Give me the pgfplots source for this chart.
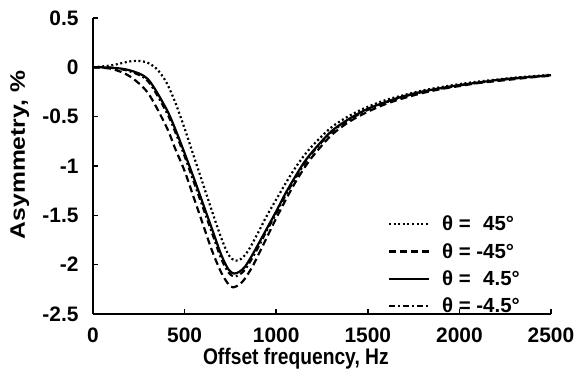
\documentclass[border=0pt]{standalone}
\usepackage{pgfplots}
\pgfplotsset{compat=1.18}
\usepackage{pgfplotstable}
\usepackage{graphicx}
\usepackage{fontspec}
\setmainfont{Liberation Sans}

\pgfplotstableread{
x y
0 0
100 0.02
200 0.06
250 0.065
300 0.045
350 -0.02
400 -0.15
450 -0.36
500 -0.62
550 -0.9
600 -1.18
650 -1.46
700 -1.73
740 -1.9
775 -1.96
810 -1.94
850 -1.85
900 -1.68
950 -1.5
1000 -1.34
1050 -1.18
1100 -1.03
1150 -0.9
1200 -0.79
1300 -0.61
1400 -0.49
1500 -0.4
1600 -0.33
1700 -0.28
1800 -0.235
1900 -0.2
2000 -0.17
2100 -0.145
2200 -0.125
2300 -0.105
2400 -0.09
2500 -0.075
}\datapfortyfive

\pgfplotstableread{
x y
0 0
100 -0.015
200 -0.09
300 -0.26
400 -0.6
450 -0.83
500 -1.05
550 -1.32
600 -1.59
650 -1.86
700 -2.08
740 -2.2
765 -2.23
800 -2.2
830 -2.14
870 -2.02
900 -1.91
950 -1.72
1000 -1.53
1050 -1.35
1100 -1.18
1150 -1.03
1200 -0.9
1300 -0.69
1400 -0.55
1500 -0.45
1600 -0.37
1700 -0.31
1800 -0.26
1900 -0.22
2000 -0.19
2100 -0.16
2200 -0.14
2300 -0.12
2400 -0.1
2500 -0.085
}\datamfortyfive

\pgfplotstableread{
x y
0 0
100 -0.003
200 -0.03
300 -0.12
400 -0.42
450 -0.63
500 -0.87
550 -1.12
600 -1.38
650 -1.64
700 -1.9
740 -2.05
770 -2.09
800 -2.07
830 -2.02
870 -1.9
900 -1.8
950 -1.63
1000 -1.46
1050 -1.28
1100 -1.12
1150 -0.97
1200 -0.85
1300 -0.65
1400 -0.52
1500 -0.42
1600 -0.35
1700 -0.29
1800 -0.245
1900 -0.21
2000 -0.18
2100 -0.155
2200 -0.13
2300 -0.11
2400 -0.095
2500 -0.08
}\datapfour

\pgfplotstableread{
x y
0 0
100 -0.005
200 -0.04
300 -0.14
400 -0.45
450 -0.66
500 -0.9
550 -1.16
600 -1.42
650 -1.68
700 -1.94
740 -2.08
770 -2.12
800 -2.1
830 -2.05
870 -1.93
900 -1.83
950 -1.65
1000 -1.48
1050 -1.3
1100 -1.14
1150 -0.99
1200 -0.86
1300 -0.66
1400 -0.53
1500 -0.43
1600 -0.355
1700 -0.295
1800 -0.25
1900 -0.215
2000 -0.183
2100 -0.157
2200 -0.133
2300 -0.113
2400 -0.097
2500 -0.082
}\datamfour

\begin{document}
\begin{tikzpicture}
\useasboundingbox (-93bp,-63bp) rectangle (484bp,314bp);
\begin{axis}[
  at={(0,0)}, anchor=south west,
  scale only axis,
  width=458bp, height=296bp,
  xmin=0, xmax=2500, ymin=-2.5, ymax=0.5,
  xtick={0,500,...,2500},
  ytick={-2.5,-2,-1.5,-1,-0.5,0,0.5},
  scaled x ticks=false,
  axis x line*=bottom, axis y line*=left,
  axis line style={line width=2bp},
  tick align=inside,
  major tick length=5bp,
  every tick/.style={line width=1.6bp, black},
  /pgf/number format/assume math mode=true,
  /pgf/number format/1000 sep={},
  tick label style={font=\fontsize{21}{24}\selectfont\bfseries},
  xticklabel style={yshift=-10bp},
  yticklabel style={xshift=-11bp},
  xlabel={\scalebox{0.92}[1.08]{Offset frequency, Hz}},
  xlabel style={font=\fontsize{21}{24}\selectfont\bfseries,
    at={(axis description cs:0.443,-0.152)}, anchor=center},
  ylabel={\scalebox{1.18}[1]{Asymmetry, \%}},
  ylabel style={font=\fontsize{21}{24}\selectfont\bfseries,
    at={(axis description cs:-0.16,0.537)}, anchor=center},
  legend style={at={(0.637,0.345)}, anchor=north west, draw=none, fill=none,
    font=\fontsize{20.5}{23}\selectfont\bfseries, row sep=7bp,
    legend cell align=left},
  legend image code/.code={\draw[#1] (0bp,0bp) -- (40bp,0bp);},
]
\addplot[black, line width=2.2bp, dash pattern=on 2bp off 2.6bp, smooth] table {\datapfortyfive};
\addlegendentry{\hspace*{10bp}θ = \hphantom{-}45°}
\addplot[black, line width=2.2bp, dash pattern=on 7bp off 4bp, smooth] table {\datamfortyfive};
\addlegendentry{\hspace*{10bp}θ = -45°}
\addplot[black, line width=2.2bp, smooth] table {\datapfour};
\addlegendentry{\hspace*{10bp}θ = \hphantom{-}4.5°}
\addplot[black, line width=2.2bp, dash pattern=on 6bp off 3bp on 2bp off 3bp, smooth] table {\datamfour};
\addlegendentry{\hspace*{10bp}θ = -4.5°}
\end{axis}
\end{tikzpicture}
\end{document}
